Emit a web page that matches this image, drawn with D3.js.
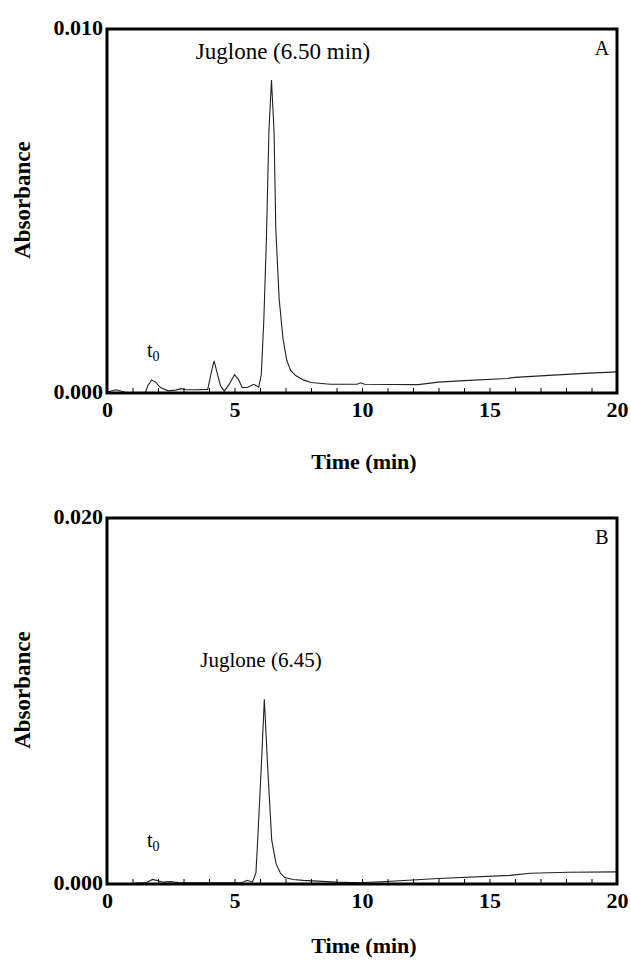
<!DOCTYPE html>
<html>
<head>
<meta charset="utf-8">
<script src="https://cdn.jsdelivr.net/npm/d3@7/dist/d3.min.js"></script>
<style>
body { margin: 0; background: #fff; }
</style>
</head>
<body>
<svg width="631" height="963"></svg>
<script>
// chromatogram A
const timeA = [0, 0.2, 0.35, 0.5, 0.7, 1.0, 1.5, 1.6, 1.75, 1.9, 2.1, 2.4, 2.7, 2.9, 3.1, 3.5, 3.95, 4.1, 4.2, 4.3, 4.45, 4.6, 4.8, 5.0, 5.15, 5.3, 5.5, 5.75, 5.95, 6.05, 6.15, 6.25, 6.35, 6.45, 6.55, 6.62, 6.75, 6.9, 7.05, 7.2, 7.4, 7.7, 8.0, 8.75, 9.8, 9.95, 10.1, 12.2, 13.0, 14.0, 15.7, 16.0, 17.0, 18.7, 20.0];
const absA  = [0.00002, 0.00006, 0.00009, 0.00006, 0.00002, 0.00001, 0.00001, 0.0002, 0.00036, 0.0003, 0.00015, 0.00006, 0.00008, 0.00012, 0.00009, 0.00009, 0.0001, 0.0006, 0.00088, 0.0006, 0.0002, 0.00005, 0.00025, 0.0005, 0.00038, 0.00015, 0.00015, 0.00024, 0.00016, 0.0005, 0.002, 0.0042, 0.0072, 0.0086, 0.0072, 0.0045, 0.0026, 0.0015, 0.0009, 0.00062, 0.00048, 0.00036, 0.00029, 0.00024, 0.00024, 0.00028, 0.00024, 0.00023, 0.0003, 0.00034, 0.0004, 0.00043, 0.00047, 0.00054, 0.00058];

// chromatogram B
const timeB = [1.1, 1.5, 1.65, 1.78, 1.95, 2.2, 2.5, 2.8, 3.5, 4.5, 5.3, 5.5, 5.7, 5.84, 5.91, 6.05, 6.17, 6.3, 6.46, 6.63, 6.8, 6.97, 7.3, 7.7, 9.0, 9.9, 11.3, 13.0, 15.8, 16.6, 18.1, 20.0];
const absB  = [0.00005, 0.00006, 0.00015, 0.00025, 0.0002, 0.0001, 0.00013, 0.00008, 0.00007, 0.00007, 0.00008, 0.0002, 0.0001, 0.0006, 0.0024, 0.0064, 0.0101, 0.0064, 0.0024, 0.0011, 0.0006, 0.00035, 0.00025, 0.0002, 0.0001, 0.00007, 0.00016, 0.0003, 0.00047, 0.00059, 0.00064, 0.00066];

const xTicks = d3.range(0, 21, 1);
const xLabels = [0, 5, 10, 15, 20];
const yTicksA = [0, 0.010];
const yTicksB = [0, 0.020];

const serif = "'Liberation Serif', 'Times New Roman', serif";
const svg = d3.select("svg");

const panels = [
  {time: timeA, abs: absA, yTicks: yTicksA, top: 29, bottom: 393, letter: "A",
   peakText: "Juglone (6.50 min)", peakSize: 23, peakX: 283, peakY: 59, t0Y: 357, ttlY: 469, absY: 200},
  {time: timeB, abs: absB, yTicks: yTicksB, top: 518, bottom: 884, letter: "B",
   peakText: "Juglone (6.45)", peakSize: 21, peakX: 261, peakY: 667, t0Y: 847, ttlY: 953, absY: 690}
];

const left = 107, right = 617;

function label(g, size, bold) {
  return g.append("text")
    .style("font-family", serif)
    .style("font-size", size + "px")
    .style("font-weight", bold ? "bold" : "normal")
    .attr("fill", "#000");
}

panels.forEach(p => {
  const g = svg.append("g");
  const x = d3.scaleLinear().domain([0, 20]).range([left, right]);
  const y = d3.scaleLinear().domain([0, p.yTicks[1]]).range([p.bottom, p.top]);

  // trace
  const line = d3.line().x((d, i) => x(p.time[i])).y(d => y(d));
  g.append("path")
    .attr("d", line(p.abs))
    .attr("fill", "none")
    .attr("stroke", "#222")
    .attr("stroke-width", 1.1);

  // x axis, ticks pointing inward
  const xa = g.append("g").attr("transform", `translate(0,${p.bottom})`)
    .call(d3.axisBottom(x).tickValues(xTicks).tickSizeInner(-5).tickSizeOuter(0)
      .tickFormat(d => xLabels.includes(d) ? d : ""));
  xa.select(".domain").remove();
  xa.selectAll(".tick line").attr("stroke", "#000").attr("stroke-width", 1);
  xa.selectAll("text").attr("y", 24).attr("dy", null).attr("fill", "#000")
    .style("font-family", serif).style("font-size", "22px").style("font-weight", "bold");

  // y axis, only the two end labels
  const ya = g.append("g").attr("transform", `translate(${left},0)`)
    .call(d3.axisLeft(y).tickValues(p.yTicks).tickSize(0).tickPadding(4).tickFormat(d3.format(".3f")));
  ya.select(".domain").remove();
  ya.selectAll("text").attr("dy", "0.25em").attr("fill", "#000")
    .style("font-family", serif).style("font-size", "22px").style("font-weight", "bold");

  // frame
  g.append("rect")
    .attr("x", left).attr("y", p.top)
    .attr("width", right - left).attr("height", p.bottom - p.top)
    .attr("fill", "none").attr("stroke", "#000").attr("stroke-width", 3);

  label(g, 20, false).attr("x", 602).attr("y", p.top + 26)
    .attr("text-anchor", "middle").text(p.letter);

  label(g, p.peakSize, false).attr("x", p.peakX).attr("y", p.peakY)
    .attr("text-anchor", "middle").text(p.peakText);

  const t0 = label(g, 20, false).attr("x", 147).attr("y", p.t0Y);
  t0.append("tspan").text("t");
  t0.append("tspan").attr("dy", 4).style("font-size", "14px").text("0");

  label(g, 22, true).attr("x", 364).attr("y", p.ttlY)
    .attr("text-anchor", "middle").text("Time (min)");

  label(g, 23, true).attr("transform", `translate(30,${p.absY}) rotate(-90)`)
    .attr("text-anchor", "middle").text("Absorbance");
});
</script>
</body>
</html>
